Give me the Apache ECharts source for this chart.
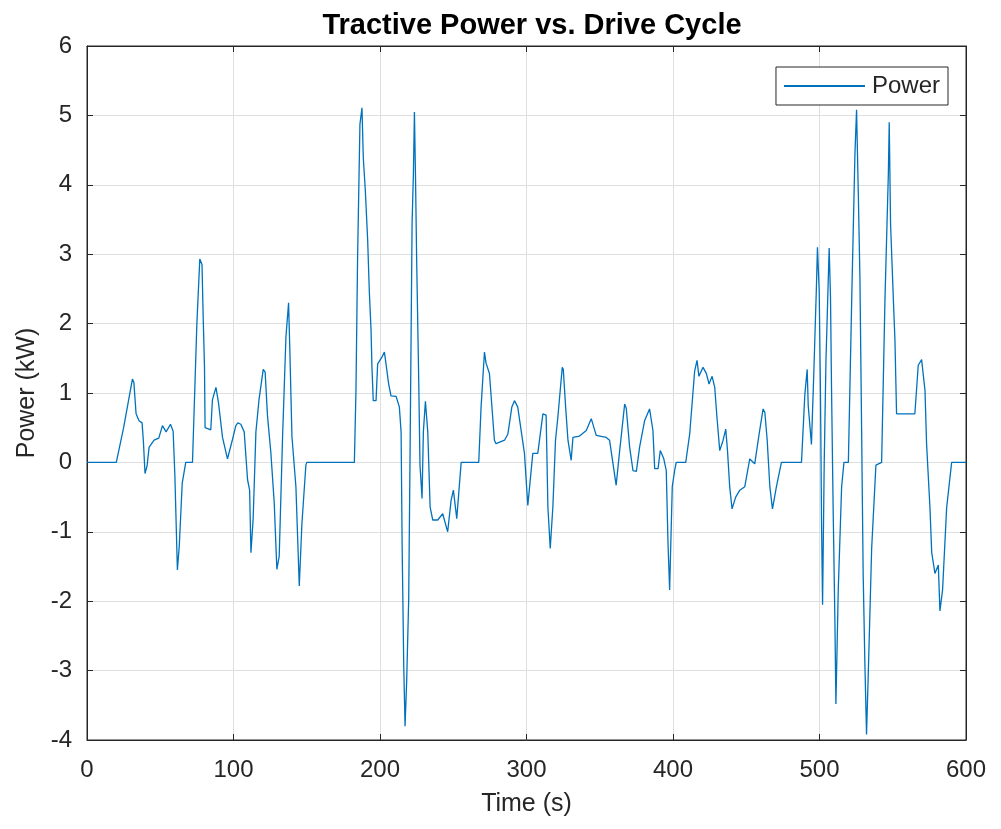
<!DOCTYPE html>
<html>
<head>
<meta charset="utf-8">
<script src="https://cdn.jsdelivr.net/npm/echarts@6/dist/echarts.min.js"></script>
<style>
html,body{margin:0;padding:0;background:#fff;}
#chart{width:1001px;height:829px;}
</style>
</head>
<body>
<div id="chart"></div>
<script>
// Data (time in s, power in kW)
var timeS = [0,20,25,28,31,32,33.5,35.5,37.6,38.5,39.6,41,42.4,45.8,49,51.5,54,57,58.8,60,61.7,63,65,67.4,72,73.5,75,77,78.5,79.3,80.2,80.6,84.5,85.6,88,89.7,92.5,95.9,99.3,101.6,103,105,107.3,109.6,111,111.9,113.4,115.3,117.5,120.3,121.6,123.2,125.5,127.8,129.6,131.2,133.5,135.8,137.6,138.5,139.9,142.6,144.9,146.7,149.4,150,
182.5,183.6,184.7,186.3,187.7,188.6,190,191.6,192.7,193.9,194.5,195.4,197.3,198.4,201.4,203,204.1,205.9,207.5,211,213.2,214.4,215.1,216.2,217.1,218.2,219.6,220.5,221.2,221.9,222.8,223.5,224.2,225,226.4,227.3,228.7,229.6,231,232.6,234.2,236,239.4,242.8,246.2,248.5,250.1,252.4,255.4,
267.4,269,271.3,272.4,274.7,278.1,279.2,285,287.3,290,291.8,294,298.6,300.9,302,304.3,307.7,311.2,313.4,314.6,316.2,318,319.8,321.4,324.4,325.1,326.7,328.3,330.5,331.7,336.2,340.8,344.2,347.6,354.4,356.7,361.2,363.6,367,368.1,370.4,372.7,375,377.2,380.6,384,386.3,387.5,389.8,391.3,393.6,395.4,396.6,397.7,399.5,401.1,402.2,
408.7,411.4,414.8,416.4,417.7,420.5,422.8,424.6,426.7,428.5,430,431.9,434.2,436,437.2,438.7,440.3,442.8,445.6,449,452.4,455.8,458.8,461.5,462.7,464.3,466.1,467.9,470.6,474,
487.7,490,491.6,492.3,494.5,496.1,497.9,498.6,499.8,500.7,501.4,502.1,503.2,504.4,506.6,507.5,508.2,509.3,510.5,511.2,512.8,515.1,516.7,519.7,522,524.2,525.3,526.5,527.6,528.7,529.8,531,532.1,533.3,535.6,538.5,542.4,544.7,547,547.6,548.5,550.4,551.5,552.6,565.1,567.4,569.7,572,573.1,575.4,576.6,578.8,581.1,582.2,584,586.8,590.2,600];
var powerKW = [0,0,0.5,0.85,1.2,1.15,0.7,0.6,0.57,0.3,-0.16,-0.05,0.22,0.32,0.35,0.53,0.44,0.55,0.45,-0.2,-1.55,-1.2,-0.3,0,0,1.0,2.0,2.93,2.85,2.1,1.37,0.5,0.47,0.9,1.08,0.87,0.36,0.05,0.33,0.53,0.57,0.55,0.44,-0.25,-0.4,-1.3,-0.82,0.44,0.92,1.34,1.3,0.67,0.14,-0.58,-1.54,-1.35,0.37,1.81,2.3,1.58,0.37,-0.35,-1.78,-0.88,-0.04,0,
0,1.04,2.95,4.87,5.11,4.39,3.91,3.19,2.47,1.9,1.37,0.89,0.89,1.42,1.52,1.59,1.42,1.13,0.96,0.95,0.8,0.44,-1.18,-2.92,-3.8,-3.16,-1.96,0.08,1.76,3.44,4.16,5.05,4.16,2.95,1.22,-0.04,-0.52,0.44,0.88,0.44,-0.64,-0.83,-0.83,-0.74,-1.0,-0.55,-0.4,-0.81,0,
0,0.8,1.59,1.43,1.28,0.32,0.27,0.32,0.41,0.8,0.89,0.8,0.13,-0.62,-0.6,0.13,0.13,0.7,0.68,-0.64,-1.24,-0.64,0.32,0.65,1.37,1.34,0.8,0.32,0.03,0.36,0.38,0.46,0.63,0.39,0.36,0.32,-0.33,0.17,0.84,0.78,0.22,-0.12,-0.13,0.22,0.6,0.77,0.46,-0.09,-0.09,0.17,0.06,-0.12,-1.17,-1.84,-0.35,-0.12,0,
0,0.41,1.32,1.47,1.24,1.37,1.28,1.13,1.24,1.08,0.65,0.17,0.32,0.48,0.17,-0.35,-0.67,-0.5,-0.4,-0.35,0.05,-0.02,0.41,0.77,0.72,0.32,-0.35,-0.67,-0.35,0,
0,0.98,1.34,0.82,0.26,1.28,2.53,3.1,2.47,0.92,-0.88,-2.05,-0.04,1.45,3.09,2.39,1.09,-0.65,-2.26,-3.48,-1.84,-0.35,0,0,2.36,4.45,5.08,3.86,2.65,0.56,-1.6,-2.92,-3.92,-3.04,-1.24,-0.04,0,2.36,4.16,4.9,3.44,2.36,1.76,0.7,0.7,1.4,1.48,1.04,0.26,-0.65,-1.3,-1.6,-1.48,-2.14,-1.84,-0.65,0,0];
var seriesName = 'Power';
var titleText = 'Tractive Power vs. Drive Cycle';
var xName = 'Time (s)';
var yName = 'Power (kW)';

var seriesData = timeS.map(function (t, i) { return [t, powerKW[i]]; });

var axisColor = '#262626';
var gridColor = '#dfdfdf';
var font = 'Liberation Sans, Arial, Helvetica, sans-serif';

var chart = echarts.init(document.getElementById('chart'), null, {renderer: 'canvas'});
chart.setOption({
  animation: false,
  backgroundColor: '#ffffff',
  title: {
    text: titleText,
    left: 527,
    textAlign: 'center',
    top: 6,
    textStyle: {fontFamily: font, fontWeight: 'bold', fontSize: 29, color: '#000'}
  },
  legend: {
    data: [{name: seriesName, icon: 'rect'}],
    right: 53,
    top: 67,
    backgroundColor: '#fff',
    borderColor: axisColor,
    borderWidth: 1,
    borderRadius: 0,
    padding: [7, 8, 7, 8],
    itemWidth: 81,
    itemHeight: 2,
    itemGap: 7,
    textStyle: {fontFamily: font, fontSize: 24, color: axisColor, padding: [0, 0, 0, 2]}
  },
  grid: {
    left: 87, right: 35, top: 46, bottom: 89,
    show: true, borderColor: axisColor, borderWidth: 1, backgroundColor: '#fff'
  },
  xAxis: [{
    type: 'value', min: 0, max: 600, interval: 100,
    name: xName, nameLocation: 'middle', nameGap: 52,
    nameTextStyle: {fontFamily: font, fontSize: 25, color: axisColor},
    axisLine: {show: true, onZero: false, lineStyle: {color: axisColor, width: 1}},
    axisTick: {show: true, inside: true, length: 6, lineStyle: {color: axisColor}},
    axisLabel: {fontFamily: font, fontSize: 24, color: axisColor, margin: 18},
    splitLine: {show: true, lineStyle: {color: gridColor, width: 1}}
  }, {
    type: 'value', min: 0, max: 600, interval: 100, position: 'top',
    axisLine: {show: true, onZero: false, lineStyle: {color: axisColor}},
    axisTick: {show: true, inside: true, length: 6, lineStyle: {color: axisColor}},
    axisLabel: {show: false}, splitLine: {show: false}
  }],
  yAxis: [{
    type: 'value', min: -4, max: 6, interval: 1,
    name: yName, nameLocation: 'middle', nameGap: 41, nameRotate: 90,
    nameTextStyle: {fontFamily: font, fontSize: 25, color: axisColor},
    axisLine: {show: true, onZero: false, lineStyle: {color: axisColor, width: 1}},
    axisTick: {show: true, inside: true, length: 6, lineStyle: {color: axisColor}},
    axisLabel: {fontFamily: font, fontSize: 24, color: axisColor, margin: 15},
    splitLine: {show: true, lineStyle: {color: gridColor, width: 1}}
  }, {
    type: 'value', min: -4, max: 6, interval: 1, position: 'right',
    axisLine: {show: true, onZero: false, lineStyle: {color: axisColor}},
    axisTick: {show: true, inside: true, length: 6, lineStyle: {color: axisColor}},
    axisLabel: {show: false}, splitLine: {show: false}
  }],
  series: [{
    name: seriesName,
    type: 'line',
    data: seriesData,
    symbol: 'none',
    showSymbol: false,
    lineStyle: {color: '#0072BD', width: 1.3},
    itemStyle: {color: '#0072BD'},
    xAxisIndex: 0, yAxisIndex: 0
  }]
});
</script>
</body>
</html>
